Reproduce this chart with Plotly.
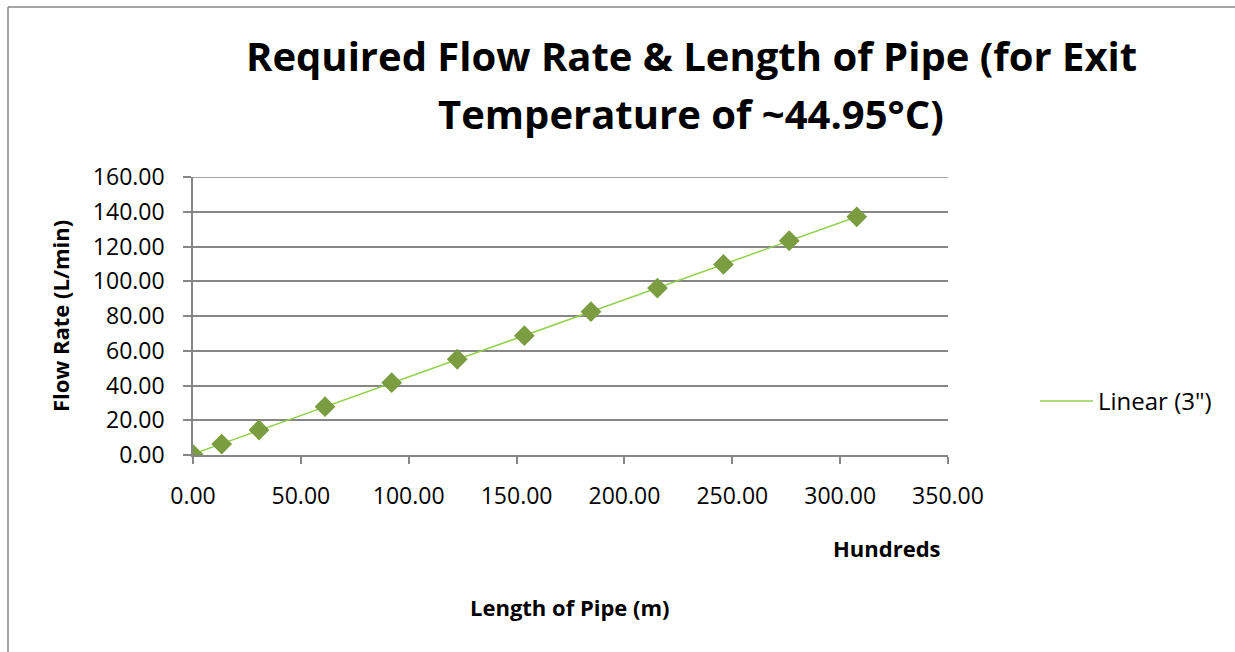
import numpy as np
import plotly.graph_objects as go

# Data (length in hundreds of metres, flow rate in L/min)
length_hundreds = [0.0, 13.3, 30.6, 61.2, 92.1, 122.5, 153.6, 184.5, 215.3, 245.9, 276.4, 307.7]
flow_rate = [0.4, 6.3, 14.4, 27.8, 41.6, 55.1, 68.7, 82.5, 96.1, 109.7, 123.3, 137.1]
trend_name = 'Linear (3")'

x_ticks = [0, 50, 100, 150, 200, 250, 300, 350]
y_ticks = [0, 20, 40, 60, 80, 100, 120, 140, 160]

# Linear trendline through the data
slope, intercept = np.polyfit(length_hundreds, flow_rate, 1)
tx = [min(length_hundreds), max(length_hundreds)]
ty = [slope * v + intercept for v in tx]

W, H = 1235, 652
L, R, T, B = 193, 287, 177, 197
pw, ph = W - L - R, H - T - B

def px_x(p):
    return (p - L) / pw

def px_y(p):
    return (H - B - p) / ph

FONT = "Open Sans, Lato, sans-serif"
grey = "#868686"
trend_color = "#92D050"

fig = go.Figure()
fig.add_trace(go.Scatter(
    x=tx, y=ty, mode="lines", line=dict(color=trend_color, width=1.5),
    name=trend_name, showlegend=False, hoverinfo="skip"
))
fig.add_trace(go.Scatter(
    x=length_hundreds, y=flow_rate, mode="markers",
    marker=dict(symbol="diamond", size=16, color="#7B9C40"),
    showlegend=False, name="3\""
))

fig.update_layout(
    width=W, height=H,
    margin=dict(l=L, r=R, t=T, b=B, autoexpand=False),
    paper_bgcolor="white", plot_bgcolor="white",
    font=dict(family=FONT, size=23, color="black"),
    xaxis=dict(range=[0, 350], tickvals=x_ticks, tickformat=".2f",
               showgrid=False, zeroline=False, showline=True, linecolor=grey, linewidth=1.5,
               ticks="outside", ticklen=7, tickcolor=grey, tickwidth=1.5,
               ticklabelstandoff=13,
               tickfont=dict(size=23, family=FONT), fixedrange=True),
    yaxis=dict(range=[0, 160], tickvals=y_ticks, tickformat=".2f",
               showgrid=True, gridcolor=grey, gridwidth=1.5, zeroline=False,
               showline=True, linecolor=grey, linewidth=1.5,
               ticks="outside", ticklen=8, tickcolor=grey, tickwidth=1.5,
               ticklabelstandoff=14,
               tickfont=dict(size=23, family=FONT), fixedrange=True),
    showlegend=False,
)

# top gridline (at the range edge)
fig.add_shape(type="line", xref="paper", yref="y",
              x0=px_x(185), x1=1, y0=y_ticks[-1], y1=y_ticks[-1],
              line=dict(color=grey, width=1.5))

title_font = dict(family=FONT, size=40, color="black", weight="bold")
fig.add_annotation(text="Required Flow Rate & Length of Pipe (for Exit", xref="paper", yref="paper",
                   x=px_x(691), y=px_y(55), xanchor="center", yanchor="middle",
                   showarrow=False, font=title_font)
fig.add_annotation(text="Temperature of ~44.95°C)", xref="paper", yref="paper",
                   x=px_x(691), y=px_y(113), xanchor="center", yanchor="middle",
                   showarrow=False, font=title_font)

lab_font = dict(family=FONT, size=22, color="black", weight="bold")
fig.add_annotation(text="Flow Rate (L/min)", xref="paper", yref="paper",
                   x=px_x(60), y=px_y(316), xanchor="center", yanchor="middle",
                   textangle=-90, showarrow=False, font=lab_font)
fig.add_annotation(text="Length of Pipe (m)", xref="paper", yref="paper",
                   x=px_x(570), y=px_y(607), xanchor="center", yanchor="middle",
                   showarrow=False, font=lab_font)
fig.add_annotation(text="Hundreds", xref="paper", yref="paper",
                   x=px_x(887), y=px_y(548), xanchor="center", yanchor="middle",
                   showarrow=False, font=lab_font)

# Legend (drawn manually for the long line sample)
fig.add_shape(type="line", xref="paper", yref="paper",
              x0=px_x(1040), x1=px_x(1093), y0=px_y(401), y1=px_y(401),
              line=dict(color=trend_color, width=1.5))
fig.add_annotation(text=trend_name, xref="paper", yref="paper",
                   x=px_x(1096), y=px_y(400), xanchor="left", yanchor="middle",
                   showarrow=False, font=dict(family=FONT, size=24, color="black"))

# Chart-area border (top and left visible)
fig.add_shape(type="line", xref="paper", yref="paper",
              x0=px_x(8), x1=px_x(1240), y0=px_y(7), y1=px_y(7),
              line=dict(color=grey, width=1.5))
fig.add_shape(type="line", xref="paper", yref="paper",
              x0=px_x(8), x1=px_x(8), y0=px_y(7), y1=px_y(660),
              line=dict(color=grey, width=1.5))

fig.write_html("out.html", config={"displayModeBar": False},
               post_script="document.body.style.margin='0px';")
